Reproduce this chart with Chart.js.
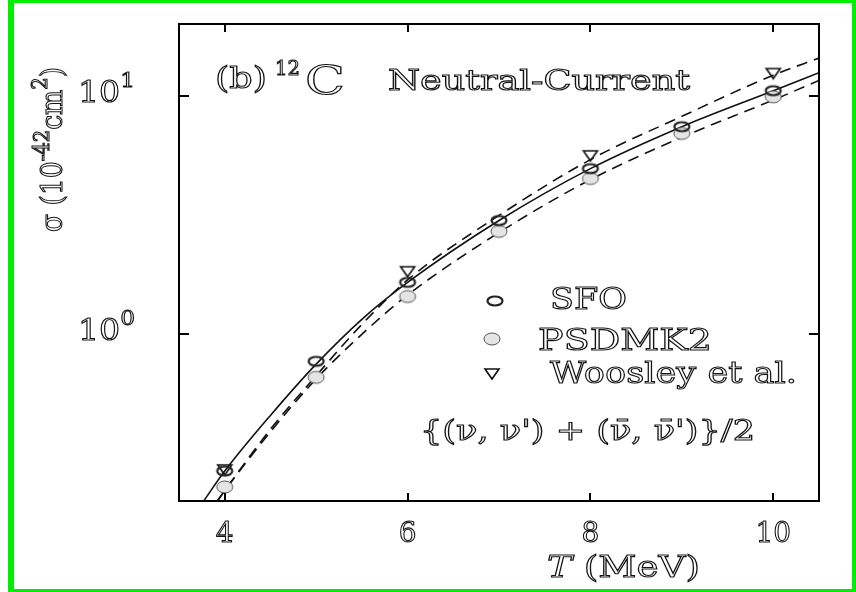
<!DOCTYPE html>
<html>
<head>
<meta charset="utf-8">
<script src="https://cdn.jsdelivr.net/npm/chart.js@4.4.1/dist/chart.umd.min.js"></script>
<style>
  html, body { margin: 0; padding: 0; background: #fff; }
  #wrap { width: 856px; height: 592px; }
</style>
</head>
<body>
<div id="wrap"><canvas id="chart1" width="856" height="592"></canvas></div>
<script>
// cross sections (10^-42 cm^2)
var tempPts = [4, 5, 6, 7, 8, 9, 10];
var sfo     = [0.267, 0.77, 1.65, 3.0, 4.95, 7.42, 10.5];
var psdmk2  = [0.229, 0.66, 1.44, 2.70, 4.5, 6.95, 9.9];
var woosleyT = [4, 6, 8, 10];
var woosley  = [0.27, 1.83, 5.6, 12.4];

// fitted curves
var solidT = [3.77, 4, 4.5, 5, 5.5, 6, 7, 8, 9, 10, 10.5];
var solidY = [0.2, 0.267, 0.457, 0.75, 1.156, 1.65, 3.0, 4.95, 7.42, 10.5, 12.5];
var upperT = [3.92, 4, 4.5, 5, 5.5, 6, 7, 8, 9, 10, 10.5];
var upperY = [0.2, 0.221, 0.40, 0.67, 1.1, 1.69, 3.15, 5.4, 8.2, 12.2, 14.4];
var lowerT = [3.92, 4, 4.5, 5, 5.5, 6, 7, 8, 9, 10, 10.5];
var lowerY = [0.2, 0.221, 0.39, 0.65, 1.0, 1.46, 2.67, 4.45, 6.7, 9.6, 11.6];

var xTicks = [4, 6, 8, 10];
var yTicks = [1, 10];
var yTickExp = ['0', '1'];

function pts(xs, ys) {
    return xs.map(function(x, i){ return { x: x, y: ys[i] }; });
}

function makeMarker(w, h, draw) {
    var c = document.createElement('canvas');
    c.width = w; c.height = h;
    draw(c.getContext('2d'), w, h);
    return c;
}
var sfoMark = makeMarker(20, 14, function(g, w, h){
    g.beginPath();
    g.ellipse(w/2, h/2, 7.5, 4.5, 0, 0, Math.PI*2);
    g.lineWidth = 2.2; g.strokeStyle = '#222'; g.stroke();
});
var psdMark = makeMarker(20, 16, function(g, w, h){
    g.beginPath();
    g.ellipse(w/2, h/2, 8, 6, 0, 0, Math.PI*2);
    g.fillStyle = '#e4e4e4'; g.fill();
    g.lineWidth = 1; g.strokeStyle = '#555'; g.stroke();
});
var triMark = makeMarker(18, 14, function(g, w, h){
    g.beginPath();
    g.moveTo(2, 2); g.lineTo(16, 2); g.lineTo(9, 12); g.closePath();
    g.lineWidth = 1.6; g.strokeStyle = '#111'; g.stroke();
});

// hollow serif lettering like the scan
function drawRuns(ctx, parts, x, y, width, align) {
    var total = 0;
    parts.forEach(function(p){
        ctx.font = (p.italic ? 'italic ' : '') + p.size + 'px "DejaVu Serif"';
        p.w = ctx.measureText(p.t).width;
        total += p.w;
    });
    var sx = width ? width / total : 1;
    var startX = align === 'center' ? x - total * sx / 2 : x;
    ctx.save();
    ctx.translate(startX, y);
    ctx.scale(sx, 1);
    ctx.textAlign = 'left';
    ctx.textBaseline = 'alphabetic';
    ctx.lineWidth = 1.1;
    ctx.strokeStyle = '#151515';
    ctx.fillStyle = '#ffffff';
    var cx = 0;
    parts.forEach(function(p){
        ctx.font = (p.italic ? 'italic ' : '') + p.size + 'px "DejaVu Serif"';
        ctx.fillText(p.t, cx, p.dy || 0);
        ctx.strokeText(p.t, cx, p.dy || 0);
        cx += p.w;
    });
    ctx.restore();
}

var paperPlugin = {
    id: 'paper',
    beforeDraw: function(chart) {
        var ctx = chart.ctx;
        ctx.save();
        ctx.fillStyle = '#fff';
        ctx.fillRect(0, 0, chart.width, chart.height);
        ctx.restore();
    },
    afterDraw: function(chart) {
        var ctx = chart.ctx;
        var a = chart.chartArea;
        var xs = chart.scales.x, ys = chart.scales.y;
        ctx.save();

        // frame
        ctx.strokeStyle = '#000';
        ctx.lineWidth = 2;
        ctx.strokeRect(a.left, a.top, a.right - a.left, a.bottom - a.top);

        // inner ticks
        ctx.lineWidth = 2;
        ctx.beginPath();
        xTicks.forEach(function(v){
            var px = Math.round(xs.getPixelForValue(v));
            ctx.moveTo(px, a.bottom); ctx.lineTo(px, a.bottom - 8);
            ctx.moveTo(px, a.top); ctx.lineTo(px, a.top + 8);
        });
        yTicks.forEach(function(v){
            var py = Math.round(ys.getPixelForValue(v));
            ctx.moveTo(a.left, py); ctx.lineTo(a.left + 10, py);
            ctx.moveTo(a.right, py); ctx.lineTo(a.right - 10, py);
        });
        ctx.stroke();

        // tick labels
        xTicks.forEach(function(v){
            var px = xs.getPixelForValue(v);
            drawRuns(ctx, [{ t: String(v), size: 28 }], px, a.bottom + 41, null, 'center');
        });
        yTicks.forEach(function(v, i){
            var py = ys.getPixelForValue(v);
            drawRuns(ctx, [{ t: '10', size: 30 }, { t: yTickExp[i], size: 21, dy: -15 }], 78, py + 6, 57);
        });

        // axis titles
        drawRuns(ctx, [{ t: 'T', size: 30, italic: true }, { t: ' (MeV)', size: 30 }], 547, 577, 153);
        ctx.save();
        ctx.translate(62, 232);
        ctx.rotate(-Math.PI / 2);
        drawRuns(ctx, [
            { t: 'σ', size: 30 }, { t: ' (10', size: 30 },
            { t: '-42', size: 22, dy: -13 }, { t: 'cm', size: 30 },
            { t: '2', size: 22, dy: -15 }, { t: ')', size: 30 }
        ], 0, 0, 165);
        ctx.restore();

        // panel title
        drawRuns(ctx, [{ t: '(b)', size: 30 }], 215, 88, 52);
        drawRuns(ctx, [{ t: '12', size: 20 }], 275, 75, 25);
        drawRuns(ctx, [{ t: 'C', size: 40 }], 305, 94, 40);
        drawRuns(ctx, [{ t: 'Neutral-Current', size: 28 }], 388, 90, 302);

        // legend
        ctx.drawImage(sfoMark, 495 - sfoMark.width/2, 301 - sfoMark.height/2);
        ctx.drawImage(psdMark, 492 - psdMark.width/2, 339 - psdMark.height/2);
        ctx.drawImage(triMark, 492 - triMark.width/2, 374 - triMark.height/2);
        drawRuns(ctx, [{ t: 'SFO', size: 30 }], 550, 309, 77);
        drawRuns(ctx, [{ t: 'PSDMK2', size: 30 }], 538, 350, 174);
        drawRuns(ctx, [{ t: 'Woosley et al.', size: 30 }], 550, 383, 247);
        drawRuns(ctx, [{ t: '{(ν, ν\') + (ν\u0304, ν\u0304\')}/2', size: 28 }], 420, 440, 335);

        // green border of the scan
        ctx.fillStyle = '#00ee00';
        ctx.fillRect(8, 0, 6, 592);
        ctx.fillRect(8, 0, 848, 3);
        ctx.fillRect(852, 0, 4, 592);
        ctx.fillRect(8, 589, 848, 3);
        ctx.restore();
    }
};

var ctx = document.getElementById('chart1');
var chart1 = new Chart(ctx, {
    type: 'line',
    data: {
        datasets: [{
            label: 'SFO',
            data: pts(tempPts, sfo),
            showLine: false,
            pointStyle: sfoMark,
            pointRadius: 6
        }, {
            label: 'Woosley et al.',
            data: pts(woosleyT, woosley),
            showLine: false,
            pointStyle: triMark,
            pointRadius: 6
        }, {
            label: 'PSDMK2',
            data: pts(tempPts, psdmk2),
            showLine: false,
            pointStyle: psdMark,
            pointRadius: 6
        }, {
            label: 'fit',
            data: pts(solidT, solidY),
            borderColor: '#111',
            borderWidth: 1.6,
            pointRadius: 0,
            cubicInterpolationMode: 'monotone'
        }, {
            label: 'upper',
            data: pts(upperT, upperY),
            borderColor: '#111',
            borderWidth: 1.6,
            borderDash: [11, 7],
            pointRadius: 0,
            cubicInterpolationMode: 'monotone'
        }, {
            label: 'lower',
            data: pts(lowerT, lowerY),
            borderColor: '#111',
            borderWidth: 1.6,
            borderDash: [11, 7],
            pointRadius: 0,
            cubicInterpolationMode: 'monotone'
        }]
    },
    options: {
        responsive: false,
        animation: false,
        layout: { padding: { left: 179, top: 24, right: 37, bottom: 91 } },
        plugins: {
            legend: { display: false },
            tooltip: { enabled: false }
        },
        scales: {
            x: { type: 'linear', min: 3.5, max: 10.5, display: false },
            y: { type: 'logarithmic', min: 0.2, max: 20, display: false }
        }
    },
    plugins: [paperPlugin]
});
</script>
</body>
</html>
